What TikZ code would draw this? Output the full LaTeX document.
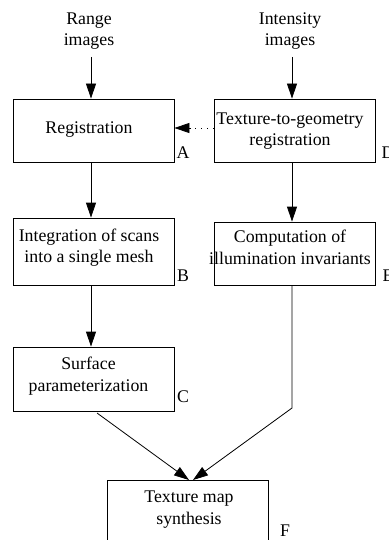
\documentclass[tikz,border=0pt]{standalone}
\usepackage{fontspec}
\setmainfont{Liberation Serif}
\usetikzlibrary{arrows.meta}
\begin{document}
\begin{tikzpicture}[x=1pt,y=-1pt,
  box/.style={draw, line width=0.8pt, minimum width=161pt, minimum height=63pt, inner sep=0pt},
  txt/.style={align=center, inner sep=0pt, font=\fontsize{17.8}{21.5}\selectfont},
  lbl/.style={inner sep=0pt, font=\fontsize{17.8}{20}\selectfont},
  arr/.style={line width=0.8pt, -{Triangle[length=15pt,width=10pt]}},
  ln/.style={line width=0.8pt}]
\useasboundingbox (0,0) rectangle (388,540);
\clip (0,0) rectangle (388,540);
% boxes
\node[box] (A) at (93.5,130.5) {};
\node[box] (D) at (294.5,130.5) {};
\node[box, minimum height=67pt] (B) at (93.5,251.5) {};
\node[box] (E) at (294.5,253.5) {};
\node[box, minimum height=64pt] (C) at (93.5,379) {};
\node[box] (F) at (188,511.5) {};
% texts
\node[txt] (tR) at (89,31) {Range\\images};
\node[txt] (tI) at (290,31) {Intensity\\images};
\node[txt] (tA) at (89,130) {Registration};
\node[txt] (tD) at (290,131) {Texture-to-geometry\\registration};
\node[txt] (tB) at (89,247.5) {Integration of scans\\into a single mesh};
\node[txt] (tE) at (290,247.5) {Computation of\\illumination invariants};
\node[txt] (tC) at (88.5,376) {Surface\\parameterization};
\node[txt] (tF) at (189,509.5) {Texture map\\synthesis};
% labels
\node[lbl] (lA) at (183,153) {A};
\node[lbl] (lD) at (388,153) {D};
\node[lbl] (lB) at (183,276) {B};
\node[lbl] (lE) at (388,276) {E};
\node[lbl] (lC) at (183,397) {C};
\node[lbl] (lF) at (285,531) {F};
% connector points
\coordinate (r0) at (91,57);
\coordinate (i0) at (292,57);
\coordinate (ebend) at (292,408);
\coordinate (fL) at (189,480);
\coordinate (fR) at (193,480);
\coordinate (c0) at (97,413);
% arrows
\draw[arr] (r0) -- (r0 |- A.north);
\draw[arr] (i0) -- (i0 |- D.north);
\draw[arr] (r0 |- A.south) -- (r0 |- B.north);
\draw[arr] (i0 |- D.south) -- (i0 |- E.north);
\draw[arr] (r0 |- B.south) -- (r0 |- C.north);
\draw[ln, dash pattern=on 1pt off 5pt] (D.west |- 0,128) -- (191,128);
\draw[arr] (191,128) -- (A.east |- 0,128);
\draw[arr] (c0) -- (fL);
\draw[arr] (i0 |- E.south) -- (ebend) -- (fR);
\end{tikzpicture}
\end{document}
